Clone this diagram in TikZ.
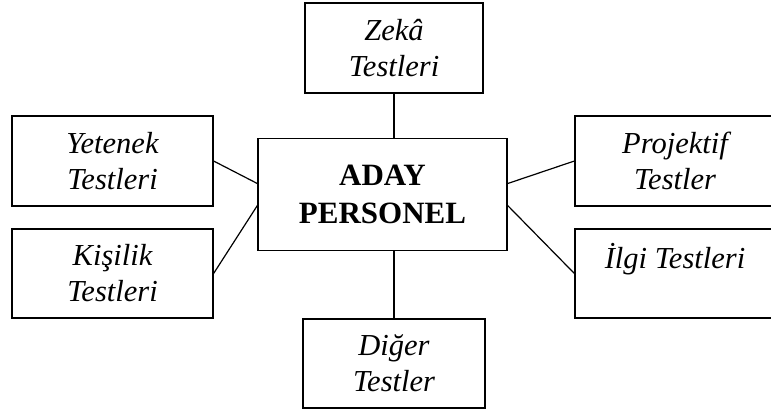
\documentclass[tikz,border=0pt]{standalone}
\usepackage{fontspec}
\setmainfont{Liberation Serif}
\usepackage{tikz}
\tikzset{testbox/.style={draw, line width=1.2pt, rectangle, align=center, inner sep=0pt,
  font=\fontsize{30.5}{36}\selectfont\itshape}}

\begin{document}
\begin{tikzpicture}[x=1pt, y=1pt, line width=1.2pt]
\useasboundingbox (0,0) rectangle (771,-412);
\node[testbox, minimum width=249, minimum height=112, font=\fontsize{31}{38}\selectfont\bfseries] (aday) at (382.5,-194.5) {ADAY\\PERSONEL};
\node[testbox, minimum width=178, minimum height=90] (zeka) at (394,-48) {Zekâ\\Testleri};
\node[testbox, minimum width=201, minimum height=90] (yetenek) at (112.5,-161) {Yetenek\\Testleri};
\node[testbox, minimum width=201, minimum height=89] (kisilik) at (112.5,-273.5) {Kişilik\\Testleri};
\node[testbox, minimum width=200, minimum height=90] (projektif) at (675,-161) {Projektif\\Testler};
\node[testbox, minimum width=200, minimum height=89] (ilgi) at (675,-273.5) {İlgi Testleri\\\mbox{}};
\node[testbox, minimum width=182, minimum height=89] (diger) at (394,-363.5) {Diğer\\Testler};
\draw (zeka.south) -- (zeka.south |- aday.north);
\draw (diger.north) -- (diger.north |- aday.south);
\draw (yetenek.east) -- (aday.175);
\draw (kisilik.east) -- (aday.185);
\draw (projektif.west) -- (aday.5);
\draw (ilgi.west) -- (aday.355);
\end{tikzpicture}
\end{document}
